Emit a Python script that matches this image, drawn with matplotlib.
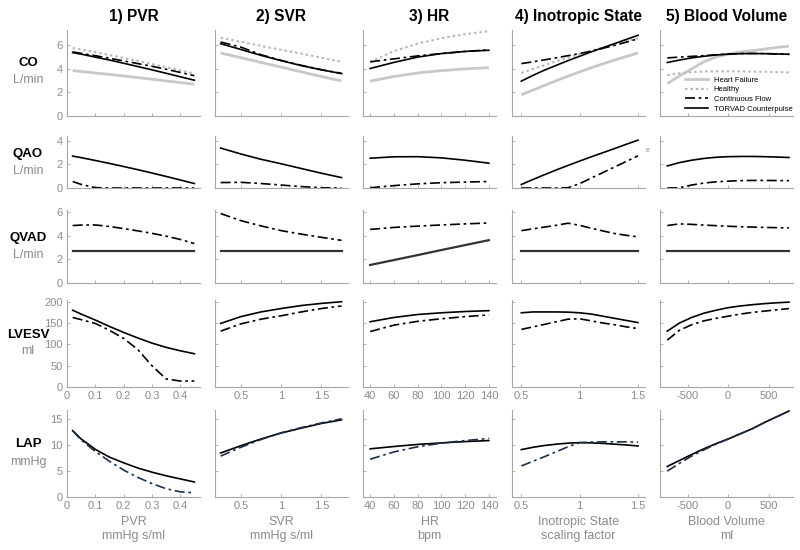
import matplotlib
matplotlib.use("Agg")
import matplotlib.pyplot as plt
from matplotlib.lines import Line2D

plt.rcParams['font.family'] = ['Liberation Sans', 'DejaVu Sans']
plt.rcParams['axes.unicode_minus'] = False

# ---------------- data ----------------
col_titles = ["1) PVR", "2) SVR", "3) HR", "4) Inotropic State", "5) Blood Volume"]
row_names = ["CO", "QAO", "QVAD", "LVESV", "LAP"]
row_units = ["L/min", "L/min", "L/min", "ml", "mmHg"]
x_names = ["PVR", "SVR", "HR", "Inotropic State", "Blood Volume"]
x_units = ["mmHg s/ml", "mmHg s/ml", "bpm", "scaling factor", "ml"]
series_labels = ["Heart Failure", "Healthy", "Continuous Flow", "TORVAD Counterpulse"]

pvr = [0.02, 0.05, 0.1, 0.15, 0.2, 0.25, 0.3, 0.35, 0.4, 0.45]
svr = [0.25, 0.5, 0.75, 1.0, 1.25, 1.5, 1.75]
hr = [40, 60, 80, 100, 120, 140]
ino = [0.5, 0.6, 0.7, 0.8, 0.9, 1.0, 1.1, 1.2, 1.3, 1.4, 1.5]
bv = [-750, -600, -450, -300, -150, 0, 150, 300, 450, 600, 750]

# CO (L/min): Heart failure / Healthy / Continuous flow / TORVAD, per column
co_hf = [
    [3.85, 3.78, 3.65, 3.53, 3.4, 3.26, 3.12, 2.98, 2.84, 2.7],
    [5.35, 4.95, 4.55, 4.15, 3.75, 3.35, 2.98],
    [2.96, 3.35, 3.65, 3.85, 4.0, 4.1],
    [1.8, 2.2, 2.6, 3.0, 3.38, 3.75, 4.1, 4.43, 4.75, 5.05, 5.35],
    [2.76, 3.4, 4.0, 4.6, 5.0, 5.25, 5.44, 5.55, 5.68, 5.82, 5.92],
]
co_healthy = [
    [5.77, 5.65, 5.42, 5.18, 4.93, 4.68, 4.42, 4.15, 3.88, 3.6],
    [6.65, 6.3, 5.95, 5.62, 5.3, 4.95, 4.6],
    [4.6, 5.5, 6.15, 6.6, 6.95, 7.2],
    [3.66, 4.0, 4.32, 4.65, 4.95, 5.25, 5.55, 5.82, 6.1, 6.35, 6.6],
    [3.47, 3.62, 3.72, 3.78, 3.8, 3.8, 3.79, 3.77, 3.75, 3.73, 3.7],
]
co_cf = [
    [5.44, 5.32, 5.12, 4.9, 4.68, 4.45, 4.22, 3.97, 3.7, 3.42],
    [6.28, 5.85, 5.2, 4.72, 4.3, 3.93, 3.62],
    [4.6, 4.85, 5.1, 5.3, 5.48, 5.62],
    [4.45, 4.6, 4.77, 4.94, 5.12, 5.3, 5.5, 5.75, 6.0, 6.27, 6.55],
    [4.93, 5.0, 5.06, 5.12, 5.2, 5.26, 5.3, 5.31, 5.3, 5.27, 5.24],
]
co_tv = [
    [5.38, 5.25, 5.0, 4.75, 4.48, 4.2, 3.92, 3.63, 3.33, 3.04],
    [6.14, 5.65, 5.15, 4.7, 4.28, 3.92, 3.6],
    [4.03, 4.55, 5.0, 5.3, 5.48, 5.58],
    [2.96, 3.45, 3.9, 4.3, 4.7, 5.07, 5.45, 5.8, 6.15, 6.5, 6.85],
    [4.54, 4.75, 4.93, 5.07, 5.18, 5.25, 5.29, 5.3, 5.29, 5.27, 5.24],
]

# QAO (L/min)
qao_cf = [
    [0.55, 0.3, 0.03, 0, 0, 0, 0, 0, 0, 0],
    [0.46, 0.48, 0.38, 0.25, 0.12, 0.02, 0.0],
    [0.02, 0.2, 0.35, 0.45, 0.5, 0.55],
    [0, 0, 0, 0, 0.02, 0.37, 0.84, 1.31, 1.78, 2.25, 2.72],
    [0, 0.02, 0.25, 0.42, 0.52, 0.58, 0.62, 0.64, 0.64, 0.63, 0.62],
]
qao_tv = [
    [2.7, 2.57, 2.33, 2.08, 1.82, 1.55, 1.27, 0.98, 0.68, 0.38],
    [3.38, 2.88, 2.43, 2.05, 1.65, 1.25, 0.88],
    [2.52, 2.64, 2.65, 2.55, 2.35, 2.1],
    [0.3, 0.72, 1.13, 1.53, 1.91, 2.28, 2.64, 2.99, 3.34, 3.7, 4.05],
    [1.87, 2.15, 2.35, 2.5, 2.6, 2.65, 2.67, 2.67, 2.65, 2.62, 2.58],
]

# QVAD (L/min)
qvad_cf = [
    [4.88, 4.92, 4.93, 4.8, 4.62, 4.43, 4.22, 3.98, 3.7, 3.35],
    [5.9, 5.3, 4.85, 4.45, 4.15, 3.88, 3.62],
    [4.55, 4.72, 4.83, 4.93, 5.02, 5.1],
    [4.45, 4.6, 4.75, 4.9, 5.08, 4.9, 4.65, 4.42, 4.2, 4.05, 3.92],
    [4.88, 5.02, 4.98, 4.92, 4.87, 4.82, 4.78, 4.75, 4.72, 4.7, 4.68],
]
qvad_tv = [
    [2.7] * 10,
    [2.7] * 7,
    [1.53, 1.95, 2.37, 2.8, 3.22, 3.64],
    [2.7] * 11,
    [2.7] * 11,
]

# LVESV (ml)
lvesv_cf = [
    [163, 158, 149, 133, 114, 88, 50, 19, 14, 14],
    [131, 148, 159, 167, 176, 184, 190],
    [130, 145, 154, 160, 165, 169],
    [135, 141, 147, 153, 159, 160, 155, 150, 146, 141, 137],
    [110, 133, 146, 155, 161, 166, 171, 175, 178, 181, 184],
]
lvesv_tv = [
    [180, 171, 157, 142, 128, 115, 103, 93, 85, 78],
    [149, 165, 176, 184, 191, 196, 200],
    [153, 163, 170, 174, 177, 179],
    [174, 176, 176, 176, 175.5, 174, 171, 166, 161, 156, 151],
    [131, 150, 163, 173, 180, 186, 190, 193, 195.5, 197.5, 199],
]

# LAP (mmHg)
lap_cf = [
    [12.8, 11.0, 8.8, 6.9, 5.2, 3.8, 2.6, 1.6, 1.0, 0.8],
    [7.9, 9.6, 11.1, 12.4, 13.4, 14.3, 15.1],
    [7.3, 8.7, 9.7, 10.4, 10.9, 11.3],
    [6.0, 6.9, 7.8, 8.75, 9.7, 10.5, 10.6, 10.65, 10.65, 10.65, 10.6],
    [5.0, 6.5, 7.9, 9.1, 10.2, 11.2, 12.2, 13.2, 14.4, 15.5, 16.6],
]
lap_tv = [
    [12.8, 11.2, 9.2, 7.7, 6.6, 5.6, 4.8, 4.1, 3.5, 2.9],
    [8.5, 9.9, 11.2, 12.35, 13.3, 14.2, 14.9],
    [9.3, 9.75, 10.15, 10.45, 10.7, 10.9],
    [9.15, 9.6, 9.95, 10.2, 10.4, 10.5, 10.45, 10.35, 10.2, 10.05, 9.85],
    [5.9, 7.05, 8.2, 9.3, 10.3, 11.2, 12.2, 13.2, 14.4, 15.5, 16.6],
]

# ---------------- layout / style ----------------
xs = [pvr, svr, hr, ino, bv]
xlims = [(0, 0.47), (0.18, 1.83), (34, 146), (0.42, 1.56), (-840, 800)]
xticks = [[0, 0.1, 0.2, 0.3, 0.4], [0.5, 1, 1.5], [40, 60, 80, 100, 120, 140],
          [0.5, 1, 1.5], [-500, 0, 500]]
xticklabels = [["0", "0.1", "0.2", "0.3", "0.4"], ["0.5", "1", "1.5"],
               ["40", "60", "80", "100", "120", "140"], ["0.5", "1", "1.5"],
               ["-500", "0", "500"]]
ylims = [(0, 7.3), (0, 4.4), (0, 6.2), (0, 204), (0, 16.8)]
yticks = [[0, 2, 4, 6], [0, 2, 4], [0, 2, 4, 6], [0, 50, 100, 150, 200], [0, 5, 10, 15]]

W, H = 800, 550
col_left = [67, 215, 363, 512, 660]
col_w = 133
row_tb = [(30, 116), (136, 188), (210, 283), (300, 387), (410, 497)]

GRAY_AX = "#a6a6a6"
GRAY_TXT = "#8c8c8c"
HF_C = "#c8c8c8"
HEALTHY_C = "#b8b8b8"
DASHDOT = (0, (6, 2.2, 1.6, 2.2))

fig = plt.figure(figsize=(8, 5.5), dpi=100)

def style_axes(ax, r, c):
    for s in ["top", "right"]:
        ax.spines[s].set_visible(False)
    for s in ["left", "bottom"]:
        ax.spines[s].set_color(GRAY_AX)
        ax.spines[s].set_linewidth(0.8)
    ax.set_xlim(*xlims[c])
    ax.set_ylim(*ylims[r])
    ax.set_xticks(xticks[c])
    ax.set_yticks(yticks[r])
    ax.tick_params(direction="in", length=2.5, width=0.6, color=GRAY_AX,
                   labelcolor=GRAY_TXT, labelsize=8, pad=3)
    if r >= 3:
        ax.set_xticklabels(xticklabels[c])
    else:
        ax.set_xticklabels([])
    if c != 0:
        ax.set_yticklabels([])
    ax.patch.set_alpha(0)

rows = [
    (co_hf, co_healthy, co_cf, co_tv),
    (None, None, qao_cf, qao_tv),
    (None, None, qvad_cf, qvad_tv),
    (None, None, lvesv_cf, lvesv_tv),
    (None, None, lap_cf, lap_tv),
]

for r in range(5):
    top, bot = row_tb[r]
    for c in range(5):
        ax = fig.add_axes([col_left[c] / W, 1 - bot / H, col_w / W, (bot - top) / H])
        style_axes(ax, r, c)
        hf, healthy, cf, tv = rows[r]
        x = xs[c]
        if hf is not None:
            ax.plot(x, hf[c], color=HF_C, lw=2.0, solid_capstyle="butt")
            ax.plot(x, healthy[c], color=HEALTHY_C, lw=1.5, linestyle=(0, (1.2, 1.4)))
        cf_color = "#1b2f4a" if r == 4 else "black"
        tv_color = "#333333" if r == 2 else "black"
        tv_lw = 1.6 if r == 2 else 1.2
        ax.plot(x, tv[c], color=tv_color, lw=tv_lw)
        ax.plot(x, cf[c], color=cf_color, lw=1.2, linestyle=DASHDOT)
        if r == 0 and c == 4:
            handles = [
                Line2D([], [], color=HF_C, lw=2.0),
                Line2D([], [], color=HEALTHY_C, lw=1.5, linestyle=(0, (1.2, 1.4))),
                Line2D([], [], color="black", lw=1.2, linestyle=DASHDOT),
                Line2D([], [], color="black", lw=1.2),
            ]
            ax.legend(handles, series_labels, loc="lower left",
                      bbox_to_anchor=(0.19, 0.04), frameon=False, fontsize=5.5,
                      handlelength=3.0, handletextpad=0.7, labelspacing=0.3,
                      borderpad=0, borderaxespad=0)
        if r == 4:
            cx = (col_left[c] + col_w / 2) / W
            fig.text(cx, 1 - 522 / H, x_names[c], ha="center", va="center",
                     fontsize=9, color=GRAY_TXT)
            fig.text(cx, 1 - 536 / H, x_units[c], ha="center", va="center",
                     fontsize=9, color=GRAY_TXT)

# column titles
for c in range(5):
    cx = (col_left[c] + col_w / 2) / W
    fig.text(cx, 1 - 17 / H, col_titles[c], ha="center", va="center",
             fontsize=11.2, fontweight="bold", color="black")

# row labels
row_label_y = [(63, 80), (154, 171), (238, 255), (335, 351), (444, 462)]
for r in range(5):
    y1, y2 = row_label_y[r]
    fig.text(28 / W, 1 - y1 / H, row_names[r], ha="center", va="center",
             fontsize=9.5, fontweight="bold", color="black")
    fig.text(28 / W, 1 - y2 / H, row_units[r], ha="center", va="center",
             fontsize=9, color=GRAY_TXT)

fig.text(648 / W, 1 - 150 / H, "e", ha="center", va="center", fontsize=5, color="#888888")

fig.savefig("out.png", dpi=100)
